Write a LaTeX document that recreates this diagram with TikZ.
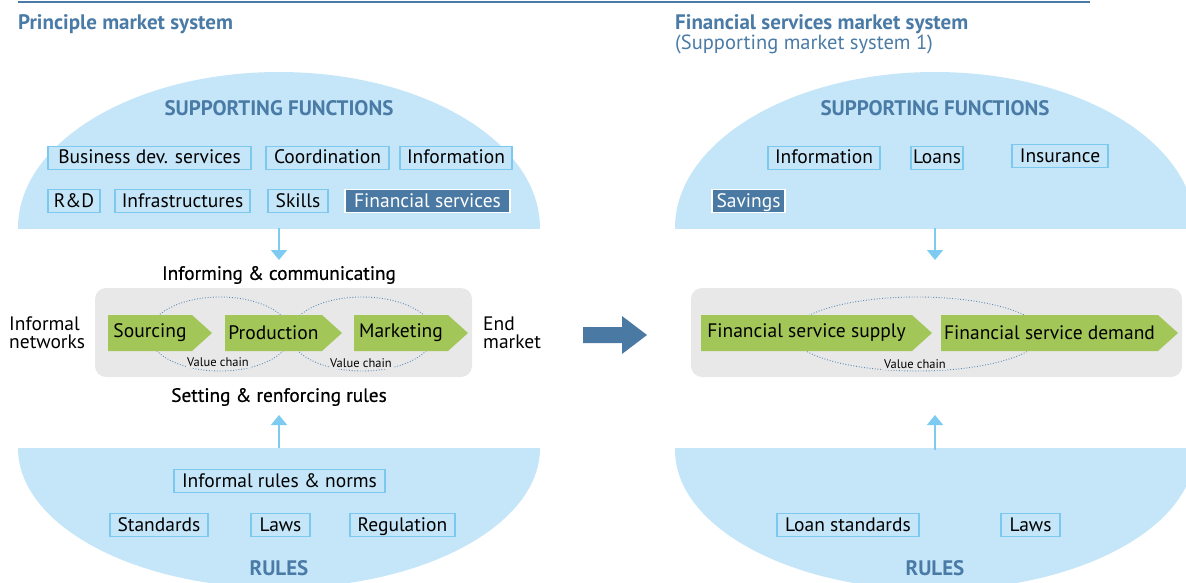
\documentclass[tikz,border=0pt]{standalone}
\usepackage{fontspec}
\setmainfont{PT Sans}
\newfontfamily\medfont[FakeBold=0.6]{PT Sans}
\usetikzlibrary{arrows.meta}
\definecolor{dome}{HTML}{C5E6F8}
\definecolor{boxline}{HTML}{7CC8EE}
\definecolor{hblue}{HTML}{4A7BA6}
\definecolor{darkbox}{HTML}{4A7AA3}
\definecolor{cgreen}{HTML}{A2C657}
\definecolor{greybg}{HTML}{E8E8E8}
\definecolor{larr}{HTML}{7DCBF0}
\definecolor{dotc}{HTML}{5A8AB5}
\newcommand{\mychev}[4]{%
  \fill[cgreen] (#1,315) -- ({#2-20},315) -- (#2,333) -- ({#2-20},351) -- (#1,351) -- cycle;
  \node[chevtext] (#3) at ({(#1+#2-20)/2},333) {#4};}
\begin{document}
\begin{tikzpicture}[x=1pt,y=-1pt,
  fbox/.style={draw=boxline, line width=1.2pt, fill=dome, minimum height=23pt, inner sep=0pt,
    font=\fontsize{19.5}{21}\selectfont, text height=15pt, text depth=3pt},
  dbox/.style={fbox, draw=white, fill=darkbox, text=white},
  heading/.style={font=\fontsize{21}{24}\selectfont\bfseries, text=hblue, inner sep=0pt},
  plain/.style={font=\fontsize{19.5}{18}\selectfont, inner sep=0pt},
  midlabel/.style={font=\fontsize{19.3}{21}\selectfont\medfont, inner sep=0pt},
  chevtext/.style={font=\fontsize{19.5}{21}\selectfont, inner sep=0pt},
  vclabel/.style={font=\fontsize{12.5}{13}\selectfont, fill=greybg, inner sep=1pt},
  vdot/.style={draw=dotc, line width=0.9pt, dash pattern=on 0.9pt off 1.8pt},
  greybox/.style={fill=greybg, rounded corners=11pt, inner sep=0pt},
  larrow/.style={draw=larr, line width=1.6pt, -{Triangle[width=16pt,length=10pt]}}]
\useasboundingbox (0,0) rectangle (1186,583);
\clip (0,0) rectangle (1186,583);

% top rule
\draw[hblue, line width=1.2pt] (18,2) -- (1090,2);

% titles
\node[anchor=base west, inner sep=0pt, text=hblue, font=\fontsize{21}{24}\selectfont\bfseries] (t1) at (18,29.5) {Principle market system};
\node[anchor=base west, inner sep=0pt, text=hblue, font=\fontsize{21}{24}\selectfont\bfseries] (t2) at (675,29.5) {Financial services market system};
\node[anchor=base west, inner sep=0pt, text=hblue, font=\fontsize{20.5}{24}\selectfont] (t3) at (675,49.5) {(Supporting market system 1)};

% domes
\begin{scope}
  \clip (0,0) rectangle (1186,228);
  \fill[dome] (279,228) ellipse [x radius=261, y radius=156];
  \fill[dome] (935,228) ellipse [x radius=260, y radius=156];
\end{scope}
\begin{scope}
  \clip (0,448) rectangle (1186,583);
  \fill[dome] (279,448) ellipse [x radius=261, y radius=140];
  \fill[dome] (935,450) ellipse [x radius=260, y radius=140];
\end{scope}

% LEFT supporting functions
\node[heading] (sf1) at (279,108) {SUPPORTING FUNCTIONS};
\node[fbox, minimum width=203pt] (bds) at (149.5,158) {Business dev. services};
\node[fbox, minimum width=123pt] (coord) at (327.5,158) {Coordination};
\node[fbox, minimum width=112pt] (info1) at (456,158) {Information};
\node[fbox, minimum width=52pt] (rd) at (74,201) {R\&D};
\node[fbox, minimum width=135pt] (infra) at (182.5,201) {Infrastructures};
\node[fbox, minimum width=60pt] (skills) at (298,201) {Skills};
\node[dbox, minimum width=165pt] (fins) at (427.5,201) {Financial services};

% LEFT arrows
\coordinate (a1s) at (279,228);
\coordinate (a1e) at (279,260);
\draw[larrow] (a1s) -- (a1e);
\coordinate (a2s) at (279,448);
\coordinate (a2e) at (279,415);
\draw[larrow] (a2s) -- (a2e);

% LEFT value chain
\node[midlabel] (inf) at (279,275) {Informing \& communicating};
\node[midlabel] (set) at (279,397) {Setting \& renforcing rules};
\node[greybox, minimum width=377pt, minimum height=89pt] (g1) at (283.5,332.5) {};
\draw[vdot] (220,334) ellipse [x radius=71, y radius=37];
\draw[vdot] (362,334) ellipse [x radius=72, y radius=37];
\mychev{108}{212}{src}{Sourcing}
\mychev{225}{342}{prod}{Production}
\mychev{354}{468}{mkt}{Marketing}
\node[vclabel] (vc1) at (218,362) {Value chain};
\node[vclabel] (vc2) at (361,363) {Value chain};
\node[plain, anchor=west, align=left] (infnet) at (9,333) {Informal\\networks};
\node[plain, anchor=west, align=left] (endm) at (483,333) {End\\market};

% LEFT rules
\node[fbox, minimum width=211pt] (irn) at (279.5,481) {Informal rules \& norms};
\node[fbox, minimum width=98pt] (std) at (159,525) {Standards};
\node[fbox, minimum width=59pt] (laws1) at (280.5,525) {Laws};
\node[fbox, minimum width=105pt] (reg) at (402.5,525) {Regulation};
\node[heading] (r1) at (279,568) {RULES};

% big arrow
\fill[darkbox] (583,327) -- (622,327) -- (622,316) -- (647,335) -- (622,354) -- (622,343) -- (583,343) -- cycle;

% RIGHT supporting functions
\node[heading] (sf2) at (935,108) {SUPPORTING FUNCTIONS};
\node[fbox, minimum width=112pt] (info2) at (824,158) {Information};
\node[fbox, minimum width=52pt] (loans) at (937,158) {Loans};
\node[fbox, minimum width=96pt] (ins) at (1060,156) {Insurance};
\node[dbox, minimum width=73pt] (sav) at (748.5,201) {Savings};

% RIGHT arrows
\coordinate (b1s) at (935,228);
\coordinate (b1e) at (935,260);
\draw[larrow] (b1s) -- (b1e);
\coordinate (b2s) at (935,450);
\coordinate (b2e) at (935,415);
\draw[larrow] (b2s) -- (b2e);

% RIGHT value chain
\node[greybox, minimum width=491pt, minimum height=89pt] (g2) at (936.5,332.5) {};
\draw[vdot] (917,334) ellipse [x radius=125, y radius=37];
\mychev{701}{932}{fsup}{Financial service supply}
\mychev{941}{1178}{fdem}{Financial service demand}
\node[vclabel] (vc3) at (915,364) {Value chain};

% RIGHT rules
\node[fbox, minimum width=142pt] (lstd) at (848,525) {Loan standards};
\node[fbox, minimum width=59pt] (laws2) at (1030.5,525) {Laws};
\node[heading] (r2) at (935,568) {RULES};
\end{tikzpicture}
\end{document}
